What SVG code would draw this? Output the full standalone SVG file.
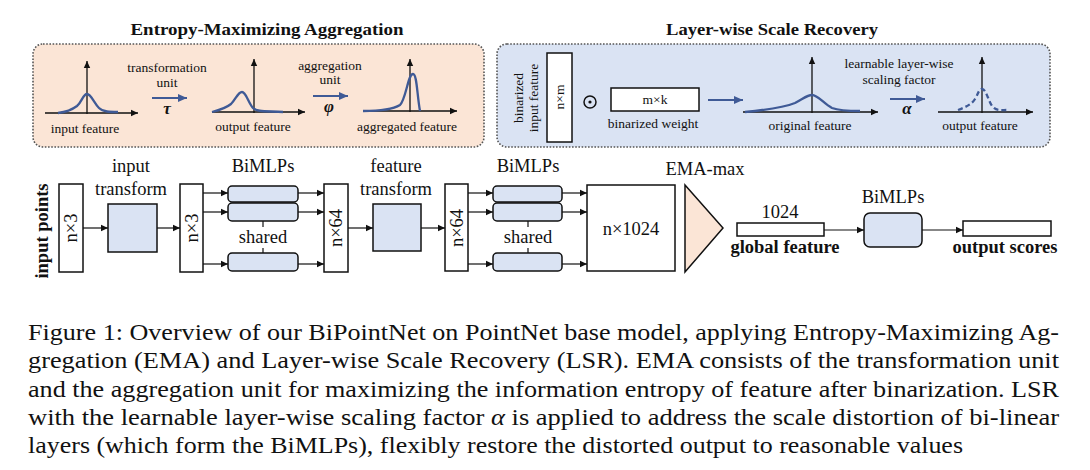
<svg xmlns="http://www.w3.org/2000/svg" width="1090" height="470" viewBox="0 0 1090 470">
<style>
.t{font-family:"Liberation Serif","Times New Roman",serif;fill:#111}
.s{font-size:13.5px}
.m{font-size:18.5px}
.b{font-weight:bold}
.g{font-size:17px;font-weight:bold;font-style:italic}
.ttl{font-size:17.5px;font-weight:bold}
.cap{font-size:23.5px}
.panel{stroke:#555;stroke-width:1.6;stroke-dasharray:1.6 1.6}
.box{fill:#fff;stroke:#111;stroke-width:1.5}
.blu{fill:#DAE3F3;stroke:#111;stroke-width:1.5}
.ax{stroke:#111;stroke-width:1.3;fill:none;marker-end:url(#ah)}
.cv{stroke:#3F5A96;stroke-width:2.3;fill:none}
.ba{stroke:#3F5A96;stroke-width:2;fill:none;marker-end:url(#bh)}
.con{stroke:#111;stroke-width:1.2;fill:none;marker-end:url(#ah)}
</style>
<defs>
<marker id="ah" markerUnits="userSpaceOnUse" markerWidth="8" markerHeight="8" refX="7" refY="4" orient="auto"><path d="M0,0.8 L7,4 L0,7.2 Z" fill="#111"/></marker>
<marker id="bh" markerUnits="userSpaceOnUse" markerWidth="10" markerHeight="10" refX="9" refY="5" orient="auto"><path d="M0,1 L9,5 L0,9 Z" fill="#3F5A96"/></marker>
</defs>
<rect width="1090" height="470" fill="#fff"/>

<g id="ema-panel">
<text class="t ttl" x="267" y="35" text-anchor="middle" textLength="273" lengthAdjust="spacingAndGlyphs">Entropy-Maximizing Aggregation</text>
<rect class="panel" x="33" y="44" width="451" height="103" rx="10" fill="#FBE5D6"/>
<g id="input-feature">
<line class="ax" x1="45" y1="113" x2="138" y2="113"/>
<line class="ax" x1="87" y1="114" x2="87" y2="61"/>
<path class="cv" d="M58,113 C66,112 73,109 77,106 C82,102 83,94 87,94 C91,94 94,103 99,108 C103,112 110,112 118,112"/>
<text class="t s" x="85" y="133" text-anchor="middle">input feature</text>
</g>
<g id="transformation-unit">
<text class="t s" x="167" y="72" text-anchor="middle">transformation</text>
<text class="t s" x="167" y="87" text-anchor="middle">unit</text>
<line class="ba" x1="152" y1="98" x2="187" y2="98"/>
<text class="t g" x="167" y="114" text-anchor="middle">τ</text>
</g>
<g id="output-feature">
<line class="ax" x1="212" y1="112" x2="305" y2="112"/>
<line class="ax" x1="254" y1="113" x2="254" y2="59"/>
<path class="cv" d="M212,112 C220,110 226,108 231,104 C236,99 238,92 242,92 C246,92 248,102 253,108 C257,112 266,111 283,112"/>
<text class="t s" x="253" y="131" text-anchor="middle">output feature</text>
</g>
<g id="aggregation-unit">
<text class="t s" x="330" y="70" text-anchor="middle">aggregation</text>
<text class="t s" x="330" y="84" text-anchor="middle">unit</text>
<line class="ba" x1="313" y1="96" x2="348" y2="96"/>
<text class="t g" x="329" y="112" text-anchor="middle">φ</text>
</g>
<g id="aggregated-feature">
<line class="ax" x1="363" y1="111" x2="457" y2="111"/>
<line class="ax" x1="410" y1="112" x2="410" y2="59"/>
<path class="cv" d="M363,111 C380,111 392,110 400,105 C406,99 408,74 413,74 C417,74 417,95 420,111"/>
<text class="t s" x="407" y="131" text-anchor="middle">aggregated feature</text>
</g>
</g>

<g id="lsr-panel">
<text class="t ttl" x="772" y="35" text-anchor="middle" textLength="212" lengthAdjust="spacingAndGlyphs">Layer-wise Scale Recovery</text>
<rect class="panel" x="497" y="44" width="553" height="103" rx="10" fill="#DAE3F3"/>
<g id="binarized-input">
<text class="t s" transform="translate(523,98) rotate(-90)" text-anchor="middle">binarized</text>
<text class="t s" transform="translate(538,98) rotate(-90)" text-anchor="middle">input feature</text>
<rect class="box" x="547" y="53" width="25" height="89"/>
<text class="t s" transform="translate(564,97) rotate(-90)" text-anchor="middle">n×m</text>
</g>
<g id="odot">
<circle cx="590" cy="102" r="6" fill="none" stroke="#111" stroke-width="1.5"/>
<circle cx="590" cy="102" r="1.6" fill="#111"/>
</g>
<g id="binarized-weight">
<rect class="box" x="611" y="88" width="88" height="23"/>
<text class="t s" x="655" y="104" text-anchor="middle">m×k</text>
<text class="t s" x="653" y="128" text-anchor="middle">binarized weight</text>
</g>
<line class="ba" x1="708" y1="100" x2="743" y2="100"/>
<g id="original-feature">
<line class="ax" x1="743" y1="112" x2="878" y2="112"/>
<line class="ax" x1="812" y1="113" x2="812" y2="57"/>
<path class="cv" d="M745,112 C765,110 785,107 795,103 C803,99 807,95 812,95 C818,95 824,104 832,108 C840,111 850,111 860,111"/>
<text class="t s" x="810" y="130" text-anchor="middle">original feature</text>
</g>
<g id="scaling-factor">
<text class="t s" x="899" y="68" text-anchor="middle">learnable layer-wise</text>
<text class="t s" x="899" y="84" text-anchor="middle">scaling factor</text>
<line class="ba" x1="890" y1="99" x2="925" y2="99"/>
<text class="t g" x="907" y="114" text-anchor="middle">α</text>
</g>
<g id="lsr-output-feature">
<line class="ax" x1="938" y1="112" x2="1033" y2="112"/>
<line class="ax" x1="982" y1="113" x2="982" y2="57"/>
<path class="cv" stroke-dasharray="5 3" d="M958,110 C966,107 972,104 975,99 C978,94 979,89 982,89 C986,89 988,100 992,106 C996,111 1000,110 1007,110"/>
<text class="t s" x="980" y="130" text-anchor="middle">output feature</text>
</g>
</g>

<g id="input-points">
<text class="t m b" transform="translate(48,231) rotate(-90)" text-anchor="middle">input points</text>
<rect class="box" x="59" y="184" width="24" height="88"/>
<text class="t m" transform="translate(77,228) rotate(-90)" text-anchor="middle">n×3</text>
</g>
<g id="input-transform">
<text class="t m" x="131" y="172" text-anchor="middle">input</text>
<text class="t m" x="131" y="195" text-anchor="middle">transform</text>
<rect class="blu" x="108" y="204" width="49" height="48"/>
</g>
<g id="n3-b">
<rect class="box" x="180" y="184" width="23" height="88"/>
<text class="t m" transform="translate(198,228) rotate(-90)" text-anchor="middle">n×3</text>
</g>
<g id="bimlps-1">
<text class="t m" x="263" y="172" text-anchor="middle">BiMLPs</text>
<rect class="blu" x="228" y="186" width="70" height="16" rx="4"/>
<rect class="blu" x="228" y="203" width="70" height="18" rx="4"/>
<rect class="blu" x="228" y="253" width="70" height="18" rx="4"/>
<line x1="263" y1="221" x2="263" y2="227" stroke="#111" stroke-width="1.2"/>
<line x1="263" y1="248" x2="263" y2="253" stroke="#111" stroke-width="1.2"/>
<text class="t m" x="263" y="243" text-anchor="middle">shared</text>
</g>
<g id="n64-a">
<rect class="box" x="324" y="184" width="24" height="88"/>
<text class="t m" transform="translate(342,228) rotate(-90)" text-anchor="middle">n×64</text>
</g>
<g id="feature-transform">
<text class="t m" x="396" y="172" text-anchor="middle">feature</text>
<text class="t m" x="396" y="195" text-anchor="middle">transform</text>
<rect class="blu" x="373" y="204" width="48" height="47"/>
</g>
<g id="n64-b">
<rect class="box" x="445" y="184" width="23" height="87"/>
<text class="t m" transform="translate(463,228) rotate(-90)" text-anchor="middle">n×64</text>
</g>
<g id="bimlps-2">
<text class="t m" x="528" y="172" text-anchor="middle">BiMLPs</text>
<rect class="blu" x="493" y="186" width="69" height="16" rx="4"/>
<rect class="blu" x="493" y="203" width="69" height="18" rx="4"/>
<rect class="blu" x="493" y="253" width="69" height="18" rx="4"/>
<line x1="528" y1="221" x2="528" y2="227" stroke="#111" stroke-width="1.2"/>
<line x1="528" y1="248" x2="528" y2="253" stroke="#111" stroke-width="1.2"/>
<text class="t m" x="528" y="243" text-anchor="middle">shared</text>
</g>
<g id="n1024">
<rect class="box" x="587" y="185" width="88" height="86"/>
<text class="t m" x="631" y="235" text-anchor="middle">n×1024</text>
</g>
<g id="ema-max">
<text class="t m" x="705" y="175" text-anchor="middle">EMA-max</text>
<path d="M685,185 L723,228 L685,272 Z" fill="#FBE5D6" stroke="#111" stroke-width="1.5"/>
</g>
<g id="global-feature">
<text class="t m" x="780" y="218" text-anchor="middle">1024</text>
<rect class="box" x="737" y="223" width="87" height="13"/>
<text class="t m b" x="785" y="253" text-anchor="middle">global feature</text>
</g>
<g id="bimlps-3">
<text class="t m" x="893" y="203" text-anchor="middle">BiMLPs</text>
<rect class="blu" x="864" y="213" width="58" height="34" rx="6"/>
</g>
<g id="output-scores">
<rect class="box" x="963" y="221" width="88" height="15"/>
<text class="t m b" x="1005" y="253" text-anchor="middle">output scores</text>
</g>

<g id="connectors">
<line class="con" x1="83" y1="228" x2="108" y2="228"/>
<line class="con" x1="157" y1="228" x2="180" y2="228"/>
<line class="con" x1="203" y1="193" x2="228" y2="193"/>
<line class="con" x1="203" y1="212" x2="228" y2="212"/>
<line class="con" x1="203" y1="264" x2="228" y2="264"/>
<line class="con" x1="298" y1="193" x2="324" y2="193"/>
<line class="con" x1="298" y1="212" x2="324" y2="212"/>
<line class="con" x1="298" y1="264" x2="324" y2="264"/>
<line class="con" x1="348" y1="228" x2="373" y2="228"/>
<line class="con" x1="421" y1="228" x2="445" y2="228"/>
<line class="con" x1="468" y1="193" x2="493" y2="193"/>
<line class="con" x1="468" y1="212" x2="493" y2="212"/>
<line class="con" x1="468" y1="264" x2="493" y2="264"/>
<line class="con" x1="562" y1="193" x2="587" y2="193"/>
<line class="con" x1="562" y1="212" x2="587" y2="212"/>
<line class="con" x1="562" y1="264" x2="587" y2="264"/>
<line class="con" x1="824" y1="230" x2="864" y2="230"/>
<line class="con" x1="922" y1="230" x2="963" y2="230"/>
</g>

<g id="caption">
<text class="t cap" x="28" y="340" textLength="1031" lengthAdjust="spacingAndGlyphs">Figure 1: Overview of our BiPointNet on PointNet base model, applying Entropy-Maximizing Ag-</text>
<text class="t cap" x="28" y="368" textLength="1031" lengthAdjust="spacingAndGlyphs">gregation (EMA) and Layer-wise Scale Recovery (LSR). EMA consists of the transformation unit</text>
<text class="t cap" x="28" y="397" textLength="1031" lengthAdjust="spacingAndGlyphs">and the aggregation unit for maximizing the information entropy of feature after binarization. LSR</text>
<text class="t cap" x="28" y="425" textLength="1031" lengthAdjust="spacingAndGlyphs">with the learnable layer-wise scaling factor <tspan font-style="italic">α</tspan> is applied to address the scale distortion of bi-linear</text>
<text class="t cap" x="28" y="453" textLength="935" lengthAdjust="spacingAndGlyphs">layers (which form the BiMLPs), flexibly restore the distorted output to reasonable values</text>
</g>
</svg>
